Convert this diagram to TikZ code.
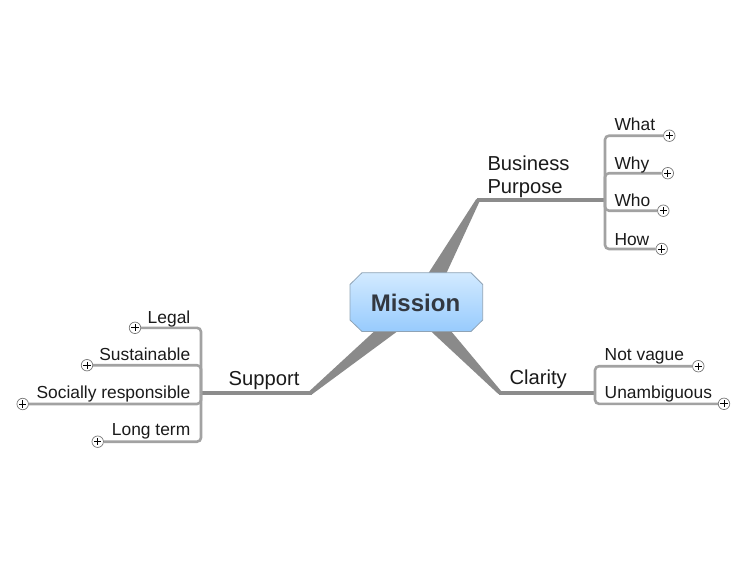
\documentclass[tikz,border=0pt]{standalone}
\usepackage{fontspec}
\setmainfont{Liberation Sans}
\usetikzlibrary{calc}
\definecolor{wedgegray}{HTML}{8A8A8A}
\definecolor{linegray}{HTML}{8C8C8C}
\definecolor{subgray}{HTML}{A2A2A2}
\definecolor{txt}{HTML}{1A1A1A}
\definecolor{mtxt}{HTML}{333840}
\definecolor{boxtop}{HTML}{D2EAFF}
\definecolor{boxbot}{HTML}{98CBFD}
\definecolor{boxborder}{HTML}{8FA3B5}
\definecolor{plusgray}{HTML}{777777}
\pgfdeclarelayer{bg}
\pgfsetlayers{bg,main}
\newcommand\wedgeshape[2]{%
  \fill[wedge] ($(#1)!10pt!90:(#2)$) -- ($(#2)!2pt!-90:(#1)$) -- ($(#2)!2pt!90:(#1)$) -- ($(#1)!10pt!-90:(#2)$) -- cycle;}
\begin{document}
\begin{tikzpicture}[x=1pt,y=-1pt,
  wedge/.style={fill=wedgegray, draw=none},
  mainline/.style={draw=linegray, line width=4pt},
  subline/.style={draw=subgray, line width=2.6pt, rounded corners=4pt},
  topic/.style={font=\fontsize{20.2}{23}\selectfont, text=txt, inner sep=0pt, align=left},
  subtopic/.style={font=\fontsize{17.4}{20}\selectfont, text=txt, inner sep=0pt},
  plus/.style={circle, draw=plusgray, fill=white, line width=0.7pt, minimum size=11.5pt, inner sep=0pt,
    path picture={\draw[black, line width=0.7pt]
      ($(path picture bounding box.center)+(-3.6,0)$) -- ($(path picture bounding box.center)+(3.6,0)$)
      ($(path picture bounding box.center)+(0,-3.6)$) -- ($(path picture bounding box.center)+(0,3.6)$);}}
]
\useasboundingbox (0,0) rectangle (750,563);

% key coordinates
\coordinate (cBP) at (423,300);
\coordinate (cSup) at (423,300);
\coordinate (cCla) at (412,300);
\coordinate (bpE) at (478,200);
\coordinate (supE) at (310,393.3);
\coordinate (claE) at (500,392.8);
\coordinate (bpJ) at (605,200);
\coordinate (supJ) at (201,393.3);
\coordinate (claJ) at (595,392.8);

% central topic
\path[draw=boxborder, line width=0.8pt, top color=boxtop, bottom color=boxbot]
  (362,272.7) -- (471,272.7) -- (482.7,284.5) -- (482.7,320) -- (471,331.5) -- (362,331.5) -- (350,320) -- (350,284.5) -- cycle;
\node[font=\bfseries\fontsize{24}{28}\selectfont, text=mtxt, inner sep=0pt, anchor=base] (mission) at (415.5,311.7) {Mission};

% main topics
\node[topic, anchor=north west] (bp) at (487.3,155.5) {Business\\Purpose};
\node[topic, anchor=base west] (sup) at (228.5,385.3) {Support};
\node[topic, anchor=base west] (cla) at (509.3,384.5) {Clarity};

% subtopics
\node[subtopic, anchor=base west] (what) at (614.3,130.5) {What};
\node[subtopic, anchor=base west] (why) at (614.3,169) {Why};
\node[subtopic, anchor=base west] (who) at (614.3,206.5) {Who};
\node[subtopic, anchor=base west] (how) at (614.3,245) {How};
\node[subtopic, anchor=base west] (notv) at (604.5,360.5) {Not vague};
\node[subtopic, anchor=base west] (una) at (604.5,398) {Unambiguous};
\node[subtopic, anchor=base east] (legal) at (190.5,323.9) {Legal};
\node[subtopic, anchor=base east] (sus) at (190.5,360.5) {Sustainable};
\node[subtopic, anchor=base east] (soc) at (190.5,398) {Socially responsible};
\node[subtopic, anchor=base east] (long) at (190.5,435.5) {Long term};

% expand buttons
\node[plus] (pWhat) at (669.3,135.7) {};
\node[plus] (pWhy) at (667.8,173.2) {};
\node[plus] (pWho) at (663.3,210.7) {};
\node[plus] (pHow) at (661.7,249) {};
\node[plus] (pNot) at (698.3,366.2) {};
\node[plus] (pUna) at (724,403.8) {};
\node[plus] (pLegal) at (135,327.8) {};
\node[plus] (pSus) at (87,365.2) {};
\node[plus] (pSoc) at (22.7,404) {};
\node[plus] (pLong) at (97.7,441.7) {};

\begin{pgfonlayer}{bg}
  \wedgeshape{cBP}{bpE}
  \wedgeshape{cSup}{supE}
  \wedgeshape{cCla}{claE}
  \draw[mainline] ([xshift=-1.5pt]bpE) -- (bpJ);
  \draw[mainline] ([xshift=1.5pt]supE) -- (supJ);
  \draw[mainline] ([xshift=-1.5pt]claE) -- (claJ);
  \draw[subline] (bpJ) |- (pWhat.west);
  \draw[subline] (bpJ) |- (pWhy.west);
  \draw[subline] (bpJ) |- (pWho.west);
  \draw[subline] (bpJ) |- (pHow.west);
  \draw[subline] (claJ) |- (pNot.west);
  \draw[subline] (claJ) |- (pUna.west);
  \draw[subline] (supJ) |- (pLegal.east);
  \draw[subline] (supJ) |- (pSus.east);
  \draw[subline] (supJ) |- (pSoc.east);
  \draw[subline] (supJ) |- (pLong.east);
\end{pgfonlayer}
\end{tikzpicture}
\end{document}
